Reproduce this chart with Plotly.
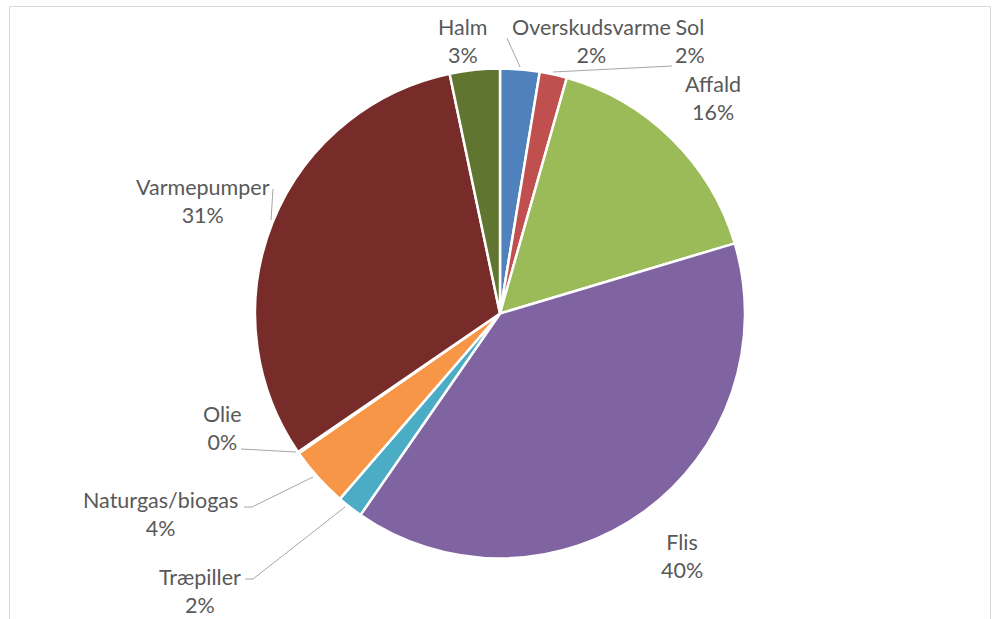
import plotly.graph_objects as go

W, H = 994, 619

categories = ["Overskudsvarme", "Sol", "Affald", "Flis", "Træpiller",
              "Naturgas/biogas", "Olie", "Varmepumper", "Halm"]
values = [2.6, 1.8, 16.0, 39.3, 1.7, 4.0, 0.1, 31.3, 3.3]
pct_labels = ["2%", "2%", "16%", "40%", "2%", "4%", "0%", "31%", "3%"]
colors = ["#4F81BD", "#C0504D", "#9BBB59", "#8064A2", "#4BACC6",
          "#F79646", "#2C4D75", "#772C2A", "#5F7530"]

# label centres (pixels) and leader lines (pixels) - layout only
label_pos = {
    "Overskudsvarme": (591, 41),
    "Sol": (690, 41),
    "Affald": (713, 98),
    "Flis": (682, 556),
    "Træpiller": (200, 591),
    "Naturgas/biogas": (160, 514),
    "Olie": (222, 428),
    "Varmepumper": (203, 201),
    "Halm": (463, 41),
}
leaders = [
    [(507, 38), (520, 67)],
    [(672, 66), (553, 72)],
    [(273, 189), (271, 220)],
    [(241, 449), (296, 452)],
    [(244, 507), (252, 507), (313, 477)],
    [(245, 579), (253, 579), (345, 507)],
]

def px(x):
    return x / W

def py(y):
    return 1 - y / H

fig = go.Figure(go.Pie(
    labels=categories,
    values=values,
    sort=False,
    direction="clockwise",
    rotation=0,
    marker=dict(colors=colors, line=dict(color="white", width=2.5)),
    textinfo="none",
    hoverinfo="label+percent",
    showlegend=False,
    domain=dict(x=[px(255), px(745)], y=[py(559), py(68)]),
))

annotations = []
for cat, pct in zip(categories, pct_labels):
    x, y = label_pos[cat]
    annotations.append(dict(
        x=px(x), y=py(y), xref="paper", yref="paper",
        text=f"{cat}<br>{pct}", showarrow=False,
        xanchor="center", yanchor="middle", align="center",
        font=dict(family="Lato, Carlito, Calibri, sans-serif", size=21.5, color="#595959"),
    ))

shapes = []
for pts in leaders:
    path = "M " + " L ".join(f"{px(x)},{py(y)}" for x, y in pts)
    shapes.append(dict(type="path", path=path, xref="paper", yref="paper",
                       line=dict(color="#A6A6A6", width=1)))
shapes.append(dict(type="rect", xref="paper", yref="paper",
                   x0=px(9.5), x1=px(990.5), y0=py(640), y1=py(6.5),
                   line=dict(color="#D9D9D9", width=1)))

fig.update_layout(
    width=W, height=H,
    margin=dict(l=0, r=0, t=0, b=0),
    paper_bgcolor="white",
    plot_bgcolor="white",
    annotations=annotations,
    shapes=shapes,
)

fig.write_html("out.html")
